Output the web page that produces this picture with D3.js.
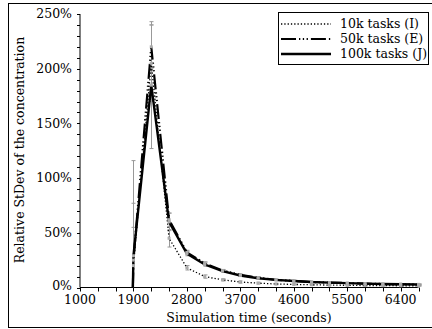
<!DOCTYPE html>
<html>
<head>
<meta charset="utf-8">
<script src="https://cdn.jsdelivr.net/npm/d3@7"></script>
<style>
  body { margin: 0; background: #fff; }
  svg { display: block; }
  text { font-family: "DejaVu Serif", serif; }
</style>
</head>
<body>
<svg id="chart" width="432" height="329"></svg>
<script>
// sample times (seconds)
const times = [1890, 1900, 2200, 2500, 2800, 3100, 3400, 3700, 4000, 4300, 4600, 4900, 5200, 5500, 5800, 6100, 6400, 6700];

// relative stdev, in %
const tasks10k  = [0, 20, 205, 45, 18, 10, 7, 5, 4, 3.2, 2.8, 2.5, 2.2, 2, 1.8, 1.7, 1.6, 1.5];
const tasks50k  = [0, 25, 220, 62, 32, 22, 15.5, 11.5, 9, 7, 6, 5, 4.5, 4, 3.5, 3.2, 3, 2.8];
const tasks100k = [0, 29, 185, 60, 31, 21, 15, 11, 8.5, 7, 6, 5, 4.5, 4, 3.5, 3.2, 3, 2.8];

// error bar half widths, in %
const err10k  = [null, 96, 35, 8, 2, 1.5, 1, 1, 0.8, 0.6, 0.5, 0.5, 0.5, 0.4, 0.4, 0.4, 0.4, 0.4];
const err50k  = [null, 30, 20, 6, 2, 1.5, 1, 1, 0.8, 0.6, 0.5, 0.5, 0.5, 0.4, 0.4, 0.4, 0.4, 0.4];
const err100k = [null, 48, 58, 8, 2, 1.5, 1, 1, 0.8, 0.6, 0.5, 0.5, 0.5, 0.4, 0.4, 0.4, 0.4, 0.4];

const seriesNames = ["10k tasks (I)", "50k tasks (E)", "100k tasks (J)"];

const xTickLabels = [1000, 1900, 2800, 3700, 4600, 5500, 6400];
const yTickLabels = [0, 50, 100, 150, 200, 250];

const series = [
  { name: seriesNames[0], values: tasks10k, err: err10k, dash: "1.3,2", width: 1.3 },
  { name: seriesNames[1], values: tasks50k, err: err50k, dash: "15,3,1.3,2.5,1.3,2.5,1.3,3", width: 2.2 },
  { name: seriesNames[2], values: tasks100k, err: err100k, dash: null, width: 2.4 }
];

const svg = d3.select("#chart");

// outer frame
svg.append("rect")
  .attr("x", 8.5).attr("y", 3.5)
  .attr("width", 440).attr("height", 324)
  .attr("fill", "none").attr("stroke", "#000").attr("stroke-width", 1);

const x = d3.scaleLinear().domain([1000, 6700]).range([80, 418.5]);
const y = d3.scaleLinear().domain([0, 250]).range([287.5, 14]);

// y axis
const yAxis = svg.append("g").attr("transform", "translate(80,0)");
yAxis.append("line")
  .attr("y1", y(0)).attr("y2", y(250))
  .attr("stroke", "#000");
yAxis.selectAll(".minor")
  .data(d3.range(0, 251, 10))
  .enter().append("line")
  .attr("x1", -3).attr("x2", 0)
  .attr("y1", d => Math.round(y(d)) + 0.5).attr("y2", d => Math.round(y(d)) + 0.5)
  .attr("stroke", "#000");
yAxis.selectAll("text")
  .data(yTickLabels)
  .enter().append("text")
  .attr("x", -8).attr("y", d => y(d) - (d === 0 ? 2 : 0))
  .attr("dy", "0.35em")
  .attr("text-anchor", "end")
  .attr("font-size", 12.5)
  .text(d => d + "%");

// x axis
const xAxis = svg.append("g").attr("transform", "translate(0," + y(0) + ")");
xAxis.append("line")
  .attr("x1", x(1000)).attr("x2", x(6700))
  .attr("stroke", "#000");
xAxis.selectAll(".minor")
  .data(d3.range(1000, 6701, 300))
  .enter().append("line")
  .attr("x1", d => Math.round(x(d)) + 0.5).attr("x2", d => Math.round(x(d)) + 0.5)
  .attr("y1", 0).attr("y2", 4)
  .attr("stroke", "#000");
xAxis.selectAll("text")
  .data(xTickLabels)
  .enter().append("text")
  .attr("x", d => x(d)).attr("y", 16)
  .attr("text-anchor", "middle")
  .attr("font-size", 12.5)
  .text(d => d);

// axis titles
svg.append("text")
  .attr("x", 249).attr("y", 322)
  .attr("text-anchor", "middle")
  .attr("font-size", 12.5)
  .text("Simulation time (seconds)");
svg.append("text")
  .attr("transform", "translate(24,150) rotate(-90)")
  .attr("text-anchor", "middle")
  .attr("font-size", 12.5)
  .text("Relative StDev of the concentration");

// error bars
const bars = svg.append("g").attr("stroke", "#999").attr("stroke-width", 1);
series.forEach(s => {
  s.values.forEach((v, i) => {
    if (s.err[i] == null) return;
    const cx = Math.round(x(times[i])) + 0.5;
    const lo = y(Math.max(0, v - s.err[i]));
    const hi = y(v + s.err[i]);
    bars.append("line").attr("x1", cx).attr("x2", cx).attr("y1", lo).attr("y2", hi);
    bars.append("line").attr("x1", cx - 2).attr("x2", cx + 2).attr("y1", hi).attr("y2", hi);
    if (v - s.err[i] > 0)
      bars.append("line").attr("x1", cx - 2).attr("x2", cx + 2).attr("y1", lo).attr("y2", lo);
  });
});

// lines
const line = d3.line()
  .x((d, i) => x(times[i]))
  .y(d => y(d));

series.forEach(s => {
  svg.append("path")
    .datum(s.values)
    .attr("fill", "none")
    .attr("stroke", "#000")
    .attr("stroke-width", s.width)
    .attr("stroke-dasharray", s.dash)
    .attr("d", line);
});

// point markers
series.forEach(s => {
  svg.append("g").selectAll("rect")
    .data(s.values.slice(1))
    .enter().append("rect")
    .attr("x", (d, i) => x(times[i + 1]) - 1.5)
    .attr("y", d => y(d) - 1.5)
    .attr("width", 3).attr("height", 3)
    .attr("fill", "#aaa");
});

// legend
const legend = svg.append("g");
legend.append("rect")
  .attr("x", 278.5).attr("y", 12.5)
  .attr("width", 150).attr("height", 52)
  .attr("fill", "#fff").attr("stroke", "#000");
series.forEach((s, i) => {
  const ly = 24 + i * 15;
  legend.append("line")
    .attr("x1", 281).attr("x2", 331)
    .attr("y1", ly).attr("y2", ly)
    .attr("stroke", "#000")
    .attr("stroke-width", s.width)
    .attr("stroke-dasharray", s.dash);
  legend.append("text")
    .attr("x", 340).attr("y", ly)
    .attr("dy", "0.35em")
    .attr("font-size", 12.5)
    .text(s.name);
});
</script>
</body>
</html>
